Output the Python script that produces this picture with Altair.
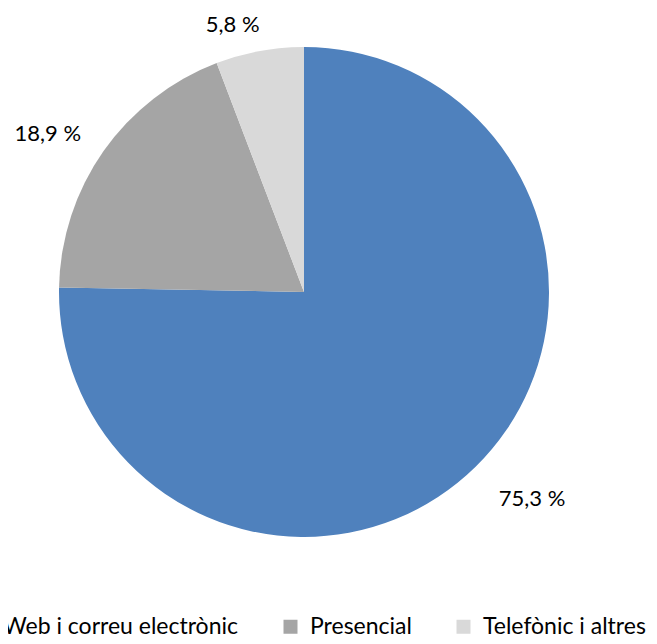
import altair as alt
import pandas as pd

categories = ["Web i correu electrònic", "Presencial", "Telefònic i altres"]
values = [75.3, 18.9, 5.8]
labels = ["75,3 %", "18,9 %", "5,8 %"]
order = [0, 1, 2]
colors = ["#4F81BD", "#A5A5A5", "#D9D9D9"]

df = pd.DataFrame({"category": categories, "value": values, "label": labels, "order": order})

FONT = "Lato"
CX, CY, R = 296, 284, 245
theta_scale = alt.Scale(domain=[0, 100], range=[0, 6.283185307179586])

base = alt.Chart(df).transform_window(
    cum="sum(value)", sort=[alt.SortField("order")], frame=[None, 0]
).transform_calculate(
    start="datum.cum - datum.value", mid="datum.cum - datum.value / 2"
)

pie = base.mark_arc(outerRadius=R).encode(
    theta=alt.Theta("start:Q", scale=theta_scale),
    theta2="cum:Q",
    x=alt.value(CX),
    y=alt.value(CY),
    color=alt.Color(
        "category:N",
        scale=alt.Scale(domain=categories, range=colors),
        sort=categories,
        legend=alt.Legend(
            orient="none", legendX=-36, legendY=607, direction="horizontal",
            title=None, symbolType="square", symbolSize=196, symbolStrokeWidth=0,
            labelFontSize=23, labelFont=FONT, labelColor="#000000", labelOffset=8,
            columnPadding=40, labelLimit=400,
        ),
    ),
)

def lab(cat, r, dx, dy):
    return base.transform_filter(alt.datum.category == cat).mark_text(
        radius=r, dx=dx, dy=dy, font=FONT, fontSize=22, color="#000000",
        align="center", baseline="middle",
    ).encode(
        theta=alt.Theta("mid:Q", scale=theta_scale),
        x=alt.value(CX), y=alt.value(CY),
        text="label:N",
    )

chart = alt.layer(
    pie,
    lab(categories[0], 307, 13, -12),
    lab(categories[1], 301, -10, 15),
    lab(categories[2], 272, -22, 0),
).properties(
    width=641, height=634, padding=0, autosize=alt.AutoSizeParams(type="none")
).configure_view(stroke=None).configure_legend(padding=0)

chart.save("out.html", embed_options={"renderer": "svg", "actions": False})
